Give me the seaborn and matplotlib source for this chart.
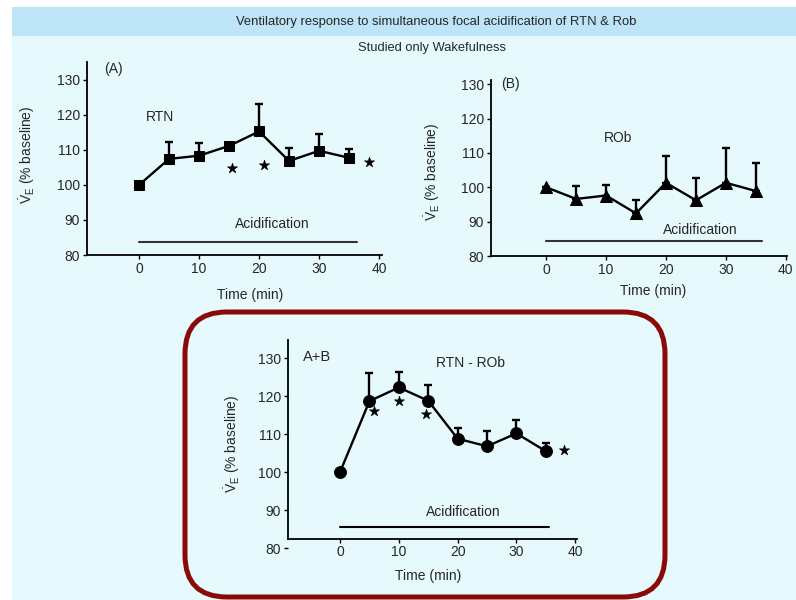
import numpy as np
import pandas as pd
import seaborn as sns
import matplotlib.pyplot as plt
from matplotlib.patches import Rectangle, FancyBboxPatch

# time points (min)
time = [0, 5, 10, 15, 20, 25, 30, 35]

# (A) RTN acidification
rtn_mean = [100, 107.4, 108.3, 111.1, 115.2, 106.8, 109.7, 107.7]
rtn_top = [100, 112.2, 111.8, 111.9, 123.0, 110.5, 114.4, 110.2]
rtn_star_x = [15.5, 20.8, 38.3]
rtn_star_y = [104.9, 105.7, 106.6]

# (B) ROb acidification
rob_mean = [100, 96.6, 97.6, 92.4, 101.3, 96.2, 101.3, 98.9]
rob_top = [100, 100.3, 100.8, 96.2, 109.0, 102.7, 111.4, 107.0]

# A+B simultaneous
both_mean = [100, 118.7, 122.3, 118.8, 108.8, 106.8, 110.2, 105.5]
both_top = [100, 126.0, 126.5, 123.0, 111.6, 110.7, 113.6, 107.7]
both_star_x = [5.8, 10, 14.7, 38.1]
both_star_y = [116.2, 118.8, 115.3, 105.8]

yticks = [80, 90, 100, 110, 120, 130]
xticks = [0, 10, 20, 30, 40]

sns.set_theme(style="ticks")
plt.rcParams['font.family'] = ['Liberation Sans', 'DejaVu Sans']
plt.rcParams['mathtext.fontset'] = 'custom'
plt.rcParams['mathtext.rm'] = 'Liberation Sans'
plt.rcParams['mathtext.it'] = 'Liberation Sans'

FS = 10

fig = plt.figure(figsize=(7.96, 6), dpi=100)
fig.patch.set_facecolor('white')

# background panels
fig.patches.append(Rectangle((12 / 796, 0), 1, 593 / 600, transform=fig.transFigure,
                             facecolor='#e6fafd', edgecolor='none', zorder=-10))
fig.patches.append(Rectangle((12 / 796, 564 / 600), 1, 29 / 600, transform=fig.transFigure,
                             facecolor='#bee4f7', edgecolor='none', zorder=-9))
fig.text(436 / 796, 1 - 22 / 600, 'Ventilatory response to simultaneous focal acidification of RTN & Rob',
         ha='center', va='center', fontsize=9.4, family=['Liberation Sans Narrow', 'Liberation Sans'])
fig.text(432 / 796, 1 - 48 / 600, 'Studied only Wakefulness', ha='center', va='center',
         fontsize=9.3, family=['Liberation Sans Narrow', 'Liberation Sans'])

# red rounded frame round the A+B panel
fig.patches.append(FancyBboxPatch((1.85, 0.03), 4.80, 2.85, transform=fig.dpi_scale_trans,
                                  boxstyle='round,pad=0,rounding_size=0.42',
                                  facecolor='none', edgecolor='#8a0a0a', linewidth=3.6, zorder=5))


def draw_panel(ax, mean, top, marker, msize):
    df = pd.DataFrame({'t': time, 'v': mean})
    up = np.array(top) - np.array(mean)
    ax.errorbar(time, mean, yerr=[np.zeros(len(up)), up], fmt='none', ecolor='black',
                elinewidth=1.7, capsize=3, capthick=1.7, zorder=2)
    sns.lineplot(data=df, x='t', y='v', ax=ax, color='black', linewidth=1.7,
                 marker=marker, markersize=msize, markeredgecolor='black', zorder=3)
    ax.set_facecolor('none')
    sns.despine(ax=ax)
    ax.set_xticks(xticks)
    ax.set_yticks(yticks)
    ax.tick_params(labelsize=FS, length=3, width=1, color='black', pad=2)
    for s in ['left', 'bottom']:
        ax.spines[s].set_linewidth(1.3)
        ax.spines[s].set_color('black')
    ax.set_xlabel('Time (min)', fontsize=FS)
    ax.set_ylabel(r'$\dot{\mathrm{V}}_{\mathrm{E}}$ (% baseline)', fontsize=FS)


def stars(ax, xs, ys):
    sns.scatterplot(x=xs, y=ys, ax=ax, marker='*', s=60, color='black', edgecolor='black',
                    linewidth=0.4, zorder=4)


# (A)
axA = fig.add_axes([87 / 796, 1 - 255 / 600, 295 / 796, 193 / 600])
draw_panel(axA, rtn_mean, rtn_top, 's', 7.5)
axA.set_xlim(-8.7, 40.5)
axA.set_ylim(80, 135)
stars(axA, rtn_star_x, rtn_star_y)
axA.plot([0, 36.3], [83.7, 83.7], color='#333333', linewidth=1.5)
axA.text(22.2, 88.9, 'Acidification', ha='center', va='center', fontsize=FS)
axA.text(3.5, 119.4, 'RTN', ha='center', va='center', fontsize=FS)
axA.text(-4.3, 132.9, '(A)', ha='center', va='center', fontsize=FS)
axA.xaxis.set_label_coords(0.553, -0.17)
axA.yaxis.set_label_coords(-0.17, 0.52)

# (B)
axB = fig.add_axes([491 / 796, 1 - 256 / 600, 296 / 796, 176 / 600])
draw_panel(axB, rob_mean, rob_top, '^', 8.5)
axB.set_xlim(-9.2, 40.2)
axB.set_ylim(80, 131.2)
axB.plot([0, 36.1], [84.4, 84.4], color='#333333', linewidth=1.5)
axB.text(25.7, 87.6, 'Acidification', ha='center', va='center', fontsize=FS)
axB.text(12, 114.3, 'ROb', ha='center', va='center', fontsize=FS)
axB.text(-6, 130, '(B)', ha='center', va='center', fontsize=FS)
axB.xaxis.set_label_coords(0.547, -0.16)
axB.yaxis.set_label_coords(-0.165, 0.48)

# A+B
axC = fig.add_axes([288 / 796, 1 - 548 / 600, 289 / 796, 208 / 600])
draw_panel(axC, both_mean, both_top, 'o', 8.5)
axC.set_xlim(-8.85, 40.3)
axC.set_ylim(80, 134.8)
axC.spines['bottom'].set_position(('data', 82.5))
axC.spines['left'].set_bounds(82.5, 134.8)
stars(axC, both_star_x, both_star_y)
axC.plot([0, 35.6], [85.5, 85.5], color='black', linewidth=1.5)
axC.text(20.9, 89.5, 'Acidification', ha='center', va='center', fontsize=FS)
axC.text(22.2, 128.7, 'RTN - ROb', ha='center', va='center', fontsize=FS)
axC.text(-3.9, 130.4, 'A+B', ha='center', va='center', fontsize=10.5)
axC.xaxis.set_label_coords(0.484, -0.1)
axC.yaxis.set_label_coords(-0.16, 0.5)

fig.savefig('out.png', dpi=100, facecolor=fig.get_facecolor())
